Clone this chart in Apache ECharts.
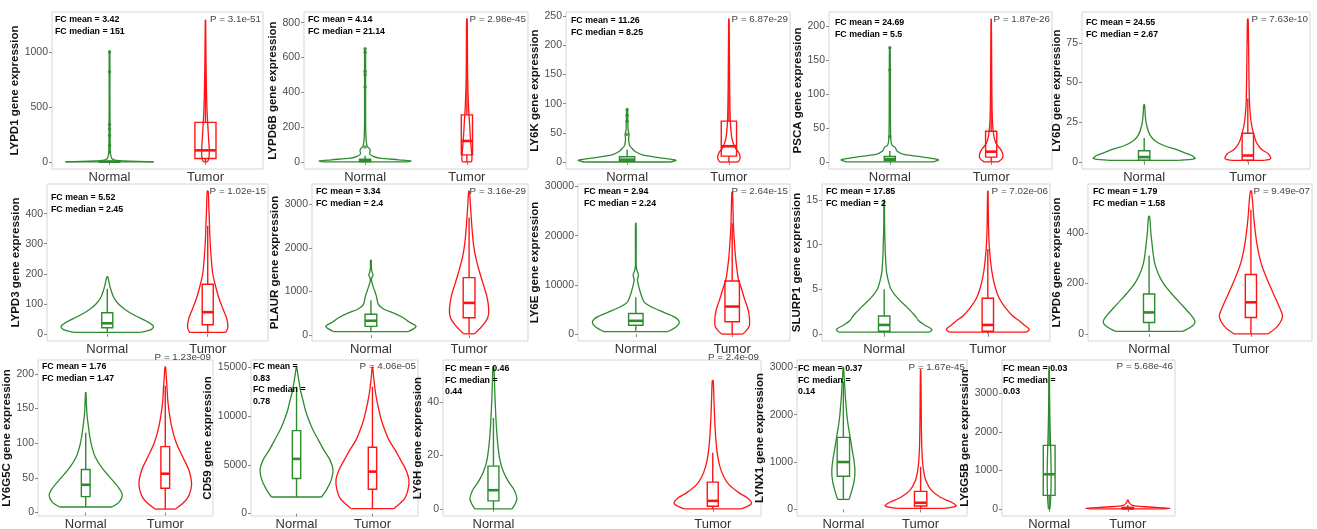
<!DOCTYPE html>
<html><head><meta charset="utf-8">
<script src="https://cdn.jsdelivr.net/npm/echarts@6/dist/echarts.min.js"></script>
<style>html,body{margin:0;padding:0;background:#fff}#c{width:1317px;height:529px}</style>
</head><body><div id="c"></div>
<script>
// ---------------- DATA ----------------
const genes = ['LYPD1','LYPD6B','LY6K','PSCA','LY6D','LYPD3','PLAUR','LY6E','SLURP1','LYPD6','LY6G5C','CD59','LY6H','LYNX1','LY6G5B'];
const groups = ['Normal','Tumor'];
const fcMean = ['3.42','4.14','11.26','24.69','24.55','5.52','3.34','2.94','17.85','1.79','1.76','0.83','0.46','0.37','0.03'];
const fcMedian = ['151','21.14','8.25','5.5','2.67','2.45','2.4','2.24','2','1.58','1.47','0.78','0.44','0.14','0.03'];
const pValues = ['3.1e-51','2.98e-45','6.87e-29','1.87e-26','7.63e-10','1.02e-15','3.16e-29','2.64e-15','7.02e-06','9.49e-07','1.23e-09','4.06e-05','2.4e-09','1.67e-45','5.68e-46'];
const yTicks = [[0,500,1000],[0,200,400,600,800],[0,50,100,150,200,250],[0,50,100,150,200],[0,25,50,75],
  [0,100,200,300,400],[0,1000,2000,3000],[0,10000,20000,30000],[0,5,10,15],[0,200,400],
  [0,50,100,150,200],[0,5000,10000,15000],[0,20,40],[0,1000,2000,3000],[0,1000,2000,3000]];
const yRange = [[-65,1365],[-41,861],[-12,257],[-10.5,220.5],[-4.5,94.5],
  [-24,499],[-135,3470],[-1400,30500],[-0.8,16.8],[-28,593],
  [-5,220],[-246,15726],[-2.65,55.65],[-140,3155],[-185,3870]];
// violin profiles: [expression value, half width (x units)]
const normalViolin = [
  [[0,0.46],[3,0.38],[8,0.15],[20,0.04],[60,0.012],[200,0.006],[600,0.004],[1010,0.003]],
  [[0,0.42],[5,0.45],[12,0.33],[22,0.14],[32,0.08],[45,0.045],[62,0.05],[75,0.045],[90,0.02],[150,0.008],[300,0.005],[650,0.004]],
  [[0,0.42],[3,0.48],[7,0.33],[12,0.15],[18,0.08],[23,0.05],[28,0.025],[40,0.015],[47,0.02],[55,0.01],[90,0.004]],
  [[0,0.42],[3,0.48],[7,0.33],[11,0.14],[16,0.07],[21,0.055],[25,0.02],[40,0.008],[135,0.005],[168,0.003]],
  [[1,0.33],[2,0.49],[4,0.46],[6,0.38],[8,0.3],[10,0.2],[13,0.11],[17,0.055],[22,0.028],[28,0.012],[36,0.004]],
  [[5,0.33],[15,0.44],[25,0.46],[40,0.4],[60,0.28],[80,0.18],[100,0.11],[120,0.066],[150,0.033],[170,0.018],[190,0.005]],
  [[80,0.38],[200,0.46],[300,0.39],[400,0.33],[500,0.24],[600,0.13],[700,0.077],[900,0.055],[1050,0.033],[1200,0.011],[1300,0.006],[1380,0.022],[1450,0.011],[1550,0.005],[1720,0.004]],
  [[500,0.33],[1500,0.42],[2500,0.45],[3500,0.4],[4500,0.28],[5500,0.165],[6500,0.088],[8000,0.055],[9500,0.033],[11000,0.017],[12000,0.028],[13000,0.011],[14000,0.004],[17000,0.004],[22500,0.003]],
  [[0.2,0.44],[0.5,0.46],[1,0.39],[1.5,0.33],[2,0.3],[3,0.22],[4,0.13],[5,0.066],[6,0.039],[7,0.022],[9,0.011],[10,0.009],[12,0.004],[15,0.002]],
  [[10,0.33],[30,0.42],[50,0.45],[80,0.4],[120,0.31],[160,0.22],[200,0.14],[240,0.088],[280,0.055],[320,0.039],[360,0.028],[400,0.017],[440,0.011],[465,0.004]],
  [[8,0.33],[15,0.42],[25,0.46],[35,0.42],[50,0.31],[65,0.2],[80,0.12],[95,0.077],[110,0.05],[125,0.033],[140,0.017],[155,0.009],[173,0.003]],
  [[1700,0.33],[2500,0.4],[3500,0.46],[4500,0.48],[5500,0.44],[6500,0.36],[7500,0.29],[8500,0.22],[9500,0.165],[10500,0.12],[11500,0.088],[12500,0.055],[13500,0.033],[14500,0.013],[15000,0.003]],
  [[0,0.085],[2,0.1],[4,0.107],[7,0.095],[10,0.07],[14,0.045],[18,0.03],[24,0.02],[30,0.014],[36,0.01],[44,0.006],[53,0.002]],
  [[210,0.075],[400,0.11],[600,0.14],[800,0.15],[1000,0.14],[1200,0.12],[1400,0.1],[1600,0.08],[1800,0.06],[2000,0.045],[2200,0.035],[2400,0.025],[2600,0.018],[2800,0.01],[3000,0.003]],
  [[0,0.01],[300,0.02],[700,0.025],[1000,0.025],[1500,0.02],[2000,0.013],[2500,0.008],[3000,0.005],[3700,0.002]]
];
const tumorViolin = [
  [[0,0.02],[30,0.035],[100,0.04],[250,0.03],[500,0.015],[900,0.006],[1290,0.002]],
  [[0,0.045],[20,0.05],[60,0.045],[130,0.035],[230,0.025],[330,0.015],[500,0.007],[820,0.003]],
  [[0,0.09],[6,0.11],[15,0.1],[25,0.06],[40,0.03],[70,0.014],[120,0.008],[160,0.006],[245,0.002]],
  [[0,0.07],[5,0.11],[11,0.115],[19,0.09],[28,0.045],[45,0.02],[70,0.01],[140,0.005],[210,0.002]],
  [[1,0.16],[2,0.22],[5,0.2],[8,0.13],[12,0.085],[18,0.055],[25,0.032],[35,0.018],[45,0.013],[60,0.01],[75,0.007],[90,0.003]],
  [[5,0.18],[20,0.2],[50,0.19],[80,0.155],[120,0.11],[160,0.077],[200,0.05],[260,0.033],[320,0.022],[370,0.017],[420,0.011],[475,0.005]],
  [[30,0.055],[200,0.13],[400,0.19],[600,0.2],[900,0.18],[1200,0.14],[1500,0.1],[1800,0.066],[2100,0.044],[2500,0.028],[2700,0.022],[3000,0.013],[3300,0.004]],
  [[0,0.11],[1500,0.175],[3000,0.18],[5000,0.165],[7000,0.13],[9000,0.1],[11000,0.066],[13000,0.05],[16000,0.033],[19000,0.022],[22000,0.013],[25000,0.009],[28800,0.003]],
  [[0.2,0.37],[0.5,0.4],[1,0.35],[1.5,0.3],[2,0.24],[3,0.165],[4,0.11],[5,0.077],[6,0.055],[7,0.039],[8,0.028],[9,0.02],[10,0.013],[12,0.007],[16,0.002]],
  [[0,0.165],[30,0.26],[70,0.31],[110,0.275],[160,0.22],[220,0.155],[280,0.1],[340,0.066],[400,0.044],[460,0.028],[520,0.017],[565,0.005]],
  [[5,0.13],[20,0.275],[40,0.33],[60,0.3],[80,0.22],[100,0.14],[120,0.088],[140,0.055],[160,0.033],[180,0.022],[195,0.013],[210,0.004]],
  [[500,0.28],[1500,0.42],[2500,0.47],[3500,0.48],[4500,0.44],[5500,0.37],[6500,0.3],[7500,0.22],[8500,0.165],[9500,0.12],[10500,0.088],[11500,0.06],[12500,0.038],[13500,0.022],[14500,0.009],[15000,0.003]],
  [[0,0.13],[2,0.176],[4,0.16],[6,0.12],[9,0.075],[12,0.05],[16,0.032],[20,0.022],[25,0.015],[30,0.011],[35,0.008],[42,0.005],[48,0.002]],
  [[20,0.3],[70,0.46],[150,0.4],[250,0.26],[400,0.14],[600,0.07],[800,0.04],[1000,0.025],[1300,0.015],[1700,0.01],[2200,0.007],[2600,0.005],[2950,0.002]],
  [[0,0.45],[15,0.53],[40,0.35],[70,0.12],[100,0.05],[130,0.03],[170,0.015],[230,0.004]]
];
// box stats: [lower whisker, Q1, median, Q3, upper whisker]
const normalBox = [[0,0.5,2,6,14],[0,2,6,15,35],[0,1,4,9,21],[0,2,4,8,16],[0,1,3,7,15],
  [5,20,35,70,150],[80,200,330,480,800],[700,1800,2700,4200,7500],[0,0.3,1,2,5],[10,45,85,158,310],
  [8,23,40,62,115],[1700,3600,5600,8500,13000],[0,3,7,16,34],[200,700,1000,1520,2700],[0,350,900,1650,3600]];
const tumorBox = [[0,30,105,360,870],[0,40,120,270,600],[0,10,27,70,160],[0,7,15,45,105],[0,1,4,18,40],
  [5,30,72,165,360],[30,400,740,1320,2700],[0,2500,5600,10800,22500],[0,0.3,1,4,9.5],[0,65,125,235,490],
  [5,35,56,95,183],[500,2500,4300,6800,13000],[0,1,3,10,21],[20,70,140,380,900],[0,5,15,40,100]];
const normalOutliers = [[1000,820,340,300,240,150,90],[650,630,520,500,430,85],[90,80,70,47],[168,135,37],[],[],[],[],[],[],[],[],[],[],[]];

// ---------------- LAYOUT / STYLE ----------------
const panelX = [[52,263],[304,528],[566,790],[829,1052],[1082,1310],[47,268],[312,528],[578,790],[822,1050],[1088,1312],[38,213],[251,418],[443,761],[797,967],[1002,1175]];
const rowTop = [12,184,360], rowBottom = [169,341,516];
const xRanges = panelX.map((_, i) => i === 12 ? [0.77, 2.22] : [0.4, 2.6]);
const nameDist = [37,29,28,31,24,30,37,40,24,28,25,33,20,29,29];
const boxW = [0.22,0.11,0.15,0.11,0.11,0.11,0.12,0.15,0.11,0.11,0.11,0.11,0.05,0.16,0.15];
const fcPos = [[55,20],[308,20],[571,21],[835,23],[1086,23],[51,198],[316,192],[584,192],[826,192],[1093,192],[42,367],[253,367],[445,369],[798,369],[1003,369]];
const pY = [19.5,19.5,19.5,19.5,19.5,191,191,191,191,191,357,366,357,367,366];
const fcWrap = [0,0,0,0,0,0,0,0,0,0,0,2,1,1,1];
const GREEN = '#2e8b2e', RED = '#ff1414';

const NARROW = (function () {
  try {
    const c = document.createElement('canvas').getContext('2d');
    const s = 'abcdefghijklmnopqrstuvwxyz ABCDEFGHIJKLMNOPQRSTUVWXYZ 0123456789';
    c.font = '40px monospace'; const a = c.measureText(s).width;
    c.font = '40px "Liberation Sans Narrow", monospace'; const b = c.measureText(s).width;
    return Math.abs(a - b) > 1;
  } catch (e) { return false; }
})();
const FONT = NARROW ? '"Liberation Sans Narrow", "Liberation Sans", Arial, sans-serif' : '"Liberation Sans", Arial, sans-serif';
const SZ = NARROW ? {tick: 12.5, xlab: 14, name: 13.5, fc: 10, p: 11} : {tick: 10.5, xlab: 13, name: 11.5, fc: 8.8, p: 9.8};

function violinRender(profile, xc, color) {
  return function (params, api) {
    if (params.dataIndex !== 0) return null;
    const L = profile.map(r => api.coord([xc - r[1], r[0]]));
    const R = profile.map(r => api.coord([xc + r[1], r[0]]));
    const pts = L.concat(R.slice().reverse());
    return {type: 'group', children: [
      {type: 'polyline', shape: {points: pts, smooth: 0.3}, style: {stroke: color, fill: 'none', lineWidth: 1.3}},
      {type: 'line', shape: {x1: L[0][0], y1: L[0][1], x2: R[0][0], y2: R[0][1]}, style: {stroke: color, lineWidth: 1.3}}
    ]};
  };
}
function boxRender(bw, color) {
  return function (params, api) {
    const xc = api.value(0);
    const c = v => api.coord([xc, v]);
    const pl = c(api.value(1)), p1 = c(api.value(2)), pm = c(api.value(3)), p3 = c(api.value(4)), ph = c(api.value(5));
    const hw = api.coord([xc + bw / 2, api.value(2)])[0] - p1[0];
    const x = p1[0];
    return {type: 'group', children: [
      {type: 'line', shape: {x1: x, y1: pl[1], x2: x, y2: p1[1]}, style: {stroke: color, lineWidth: 1.4}},
      {type: 'line', shape: {x1: x, y1: p3[1], x2: x, y2: ph[1]}, style: {stroke: color, lineWidth: 1.4}},
      {type: 'rect', shape: {x: x - hw, y: p3[1], width: 2 * hw, height: Math.max(p1[1] - p3[1], 0.5)}, style: {stroke: color, fill: 'none', lineWidth: 1.4}},
      {type: 'line', shape: {x1: x - hw, y1: pm[1], x2: x + hw, y2: pm[1]}, style: {stroke: color, lineWidth: 2.6}}
    ]};
  };
}

const grids = [], xAxes = [], yAxes = [], series = [], graphics = [];
genes.forEach((g, i) => {
  const row = Math.floor(i / 5);
  const [l, r] = panelX[i];
  grids.push({left: l, top: rowTop[row], width: r - l, height: rowBottom[row] - rowTop[row],
    show: true, borderColor: '#d6d6d6', borderWidth: 1, backgroundColor: 'transparent', outerBoundsMode: 'none', containLabel: false});
  xAxes.push({type: 'value', gridIndex: i, min: xRanges[i][0], max: xRanges[i][1],
    axisLine: {show: false}, splitLine: {show: false},
    axisTick: {show: true, customValues: [1, 2], length: 3, lineStyle: {color: '#8a8a8a'}},
    axisLabel: {customValues: [1, 2], formatter: v => groups[Math.round(v) - 1], margin: 2,
      color: '#333', fontSize: SZ.xlab, fontFamily: FONT}});
  yAxes.push({type: 'value', gridIndex: i, min: yRange[i][0], max: yRange[i][1],
    axisLine: {show: false}, splitLine: {show: false},
    axisTick: {show: true, customValues: yTicks[i], length: 3, lineStyle: {color: '#8a8a8a'}},
    axisLabel: {customValues: yTicks[i], formatter: v => String(v), margin: 4, color: '#4d4d4d', fontSize: SZ.tick, fontFamily: FONT},
    name: g + ' gene expression', nameLocation: 'middle', nameGap: nameDist[i] - 8.75,
    nameTextStyle: {fontWeight: 'bold', fontSize: SZ.name, color: '#111', fontFamily: FONT}});
  [[normalViolin[i], 1, GREEN], [tumorViolin[i], 2, RED]].forEach(([prof, xc, col]) => {
    series.push({type: 'custom', xAxisIndex: i, yAxisIndex: i, renderItem: violinRender(prof, xc, col),
      data: prof.map(p => [xc, p[0], p[1]]), encode: {x: 0, y: 1}, silent: true, z: 2});
  });
  [[normalBox[i], 1, GREEN], [tumorBox[i], 2, RED]].forEach(([b, xc, col]) => {
    series.push({type: 'custom', xAxisIndex: i, yAxisIndex: i, renderItem: boxRender(boxW[i], col),
      data: [[xc].concat(b)], encode: {x: 0, y: [1, 2, 3, 4, 5]}, silent: true, z: 3});
  });
  if (normalOutliers[i].length) {
    series.push({type: 'scatter', xAxisIndex: i, yAxisIndex: i, symbolSize: 3.5, silent: true,
      itemStyle: {color: GREEN}, data: normalOutliers[i].map(v => [1, v]), z: 4});
  }
  let fcText;
  if (fcWrap[i] === 0) fcText = 'FC mean = ' + fcMean[i] + '\nFC median = ' + fcMedian[i];
  else if (fcWrap[i] === 1) fcText = 'FC mean = ' + fcMean[i] + '\nFC median =\n' + fcMedian[i];
  else fcText = 'FC mean =\n' + fcMean[i] + '\nFC median =\n' + fcMedian[i];
  graphics.push({type: 'text', x: fcPos[i][0], y: fcPos[i][1] - 5.75, z: 10, silent: true,
    style: {text: fcText, fill: '#000', font: 'bold ' + SZ.fc + 'px ' + FONT, lineHeight: 11.5, textAlign: 'left', textVerticalAlign: 'top', verticalAlign: 'top'}});
  graphics.push({type: 'text', x: r - 2, y: pY[i], z: 10, silent: true,
    style: {text: 'P = ' + pValues[i], fill: '#444', font: SZ.p + 'px ' + FONT, textAlign: 'right', textVerticalAlign: 'middle', verticalAlign: 'middle'}});
});

const chart = echarts.init(document.getElementById('c'), null, {renderer: 'canvas'});
chart.setOption({backgroundColor: '#fff', animation: false, grid: grids, xAxis: xAxes, yAxis: yAxes, series: series, graphic: graphics});
</script></body></html>
